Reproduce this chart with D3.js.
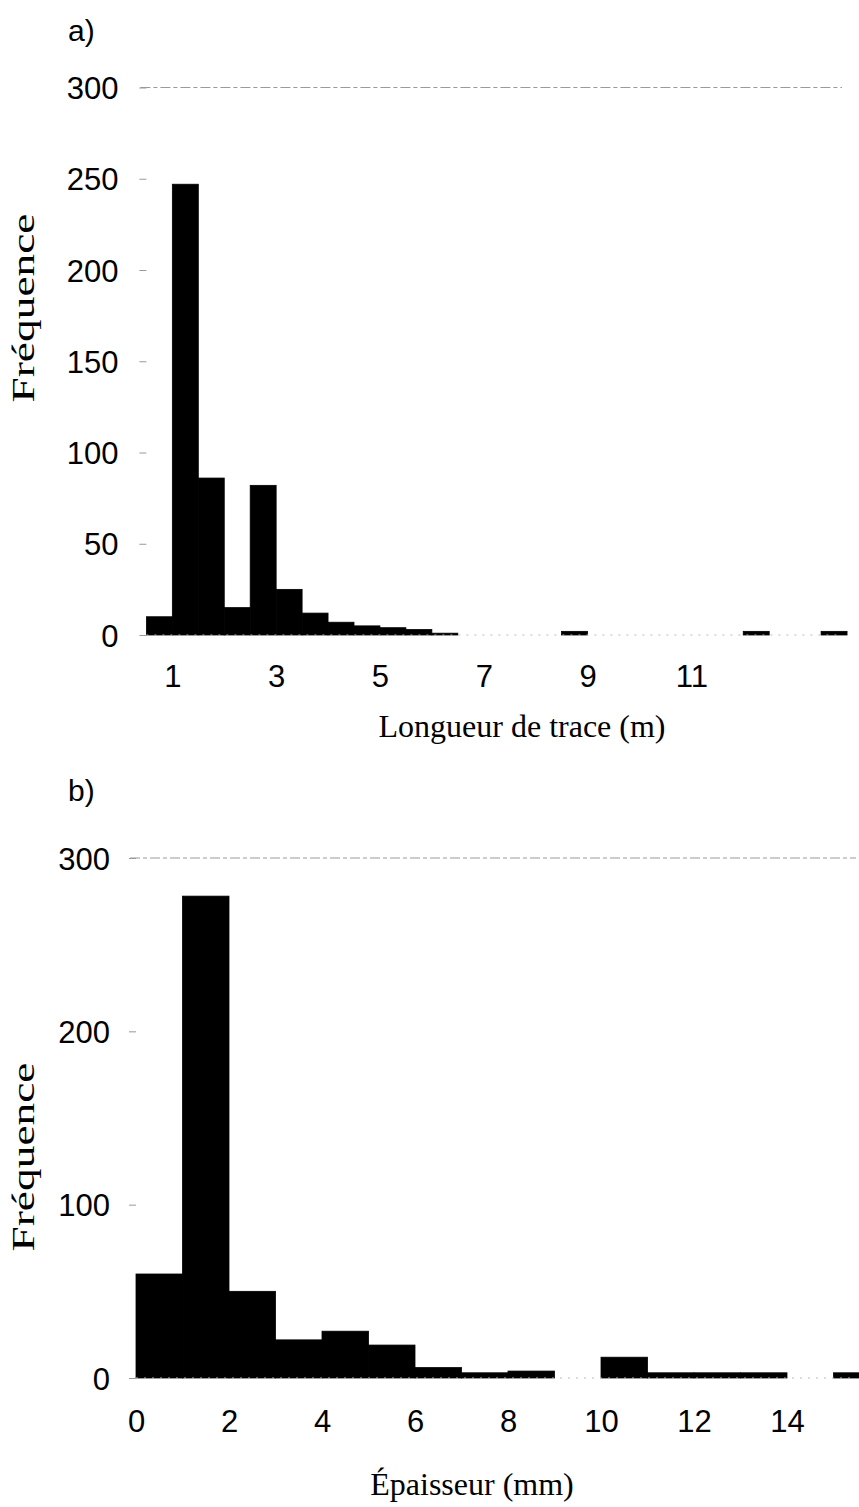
<!DOCTYPE html>
<html>
<head>
<meta charset="utf-8">
<script src="https://cdn.jsdelivr.net/npm/d3@7"></script>
<style>
  body { margin: 0; background: #fff; }
  svg { display: block; }
  .tick text { font-family: "Liberation Sans", Arial, sans-serif; font-size: 31px; fill: #000; }
  .title { font-family: "Liberation Serif", "Times New Roman", serif; font-size: 32px; fill: #000; }
  .panel { font-family: "Liberation Sans", Arial, sans-serif; font-size: 30px; fill: #000; }
</style>
</head>
<body>
<div id="chart"></div>
<script>
// a) trace length, 0.5 m bins (lower edge of each bin)
const lengthBins = [0.5, 1, 1.5, 2, 2.5, 3, 3.5, 4, 4.5, 5, 5.5, 6, 6.5, 7, 7.5, 8, 8.5, 9, 9.5, 10, 10.5, 11, 11.5, 12, 12.5, 13, 13.5];
const lengthCounts = [10, 247, 86, 15, 82, 25, 12, 7, 5, 4, 3, 1, 0, 0, 0, 0, 2, 0, 0, 0, 0, 0, 0, 2, 0, 0, 2];
const lengthTicks = [1, 3, 5, 7, 9, 11];
const lengthYTicks = [0, 50, 100, 150, 200, 250, 300];

// b) thickness, 1 mm bins
const thickBins = [0, 1, 2, 3, 4, 5, 6, 7, 8, 9, 10, 11, 12, 13, 14, 15];
const thickCounts = [60, 278, 50, 22, 27, 19, 6, 3, 4, 0, 12, 3, 3, 3, 0, 3];
const thickTicks = [0, 2, 4, 6, 8, 10, 12, 14];
const thickYTicks = [0, 100, 200, 300];

const W = 859, H = 1507;
const svg = d3.select("#chart").append("svg").attr("width", W).attr("height", H);

function panel(opts) {
  const g = svg.append("g");
  const x = d3.scaleLinear().domain(opts.xDomain).range(opts.xRange);
  const y = d3.scaleLinear().domain([0, 300]).range(opts.yRange);

  // top gridline
  g.append("line")
    .attr("x1", opts.xRange[0] - 6).attr("x2", opts.gridEnd)
    .attr("y1", y(300)).attr("y2", y(300))
    .attr("stroke", "#9a9a9a").attr("stroke-width", 1)
    .attr("stroke-dasharray", "10,3,4,3");

  // bars
  g.selectAll("rect")
    .data(opts.bins.map((b, i) => ({ b, c: opts.counts[i] })).filter(d => d.c > 0))
    .join("rect")
    .attr("x", d => x(d.b))
    .attr("width", d => x(d.b + opts.binWidth) - x(d.b))
    .attr("y", d => y(d.c))
    .attr("height", d => y(0) - y(d.c))
    .attr("fill", "#000")
    .attr("stroke", "#000")
    .attr("stroke-width", 0.8);

  // x baseline (faint)
  g.append("line")
    .attr("x1", opts.xRange[0]).attr("x2", opts.gridEnd)
    .attr("y1", y(0)).attr("y2", y(0))
    .attr("stroke", "#bbb").attr("stroke-width", 1)
    .attr("stroke-dasharray", "2,6");

  const yAxis = g.append("g")
    .attr("transform", `translate(${opts.xRange[0]},0)`)
    .call(d3.axisLeft(y).tickValues(opts.yTicks).tickSize(7).tickPadding(opts.yPad));
  yAxis.select(".domain").remove();
  yAxis.selectAll(".tick line").attr("stroke", "#999");
  yAxis.selectAll(".tick text").attr("dy", "0.36em");

  const xAxis = g.append("g")
    .attr("transform", `translate(0,${y(0)})`)
    .call(d3.axisBottom(x).tickValues(opts.xTicks).tickSize(0));
  xAxis.select(".domain").remove();
  xAxis.selectAll(".tick text").attr("y", opts.xLabelBase - y(0)).attr("dy", 0);

  svg.append("text").attr("class", "panel")
    .attr("x", 68).attr("y", opts.panelY).text(opts.panel);

  svg.append("text").attr("class", "title")
    .attr("text-anchor", "middle")
    .attr("x", opts.xTitle[0]).attr("y", opts.xTitle[1])
    .text(opts.xLabel);

  svg.append("text").attr("class", "title")
    .attr("text-anchor", "middle")
    .attr("transform", `translate(${opts.yTitle[0]},${opts.yTitle[1]}) rotate(-90)`)
    .attr("textLength", 189).attr("lengthAdjust", "spacingAndGlyphs")
    .text("Fréquence");
}

panel({
  bins: lengthBins, counts: lengthCounts, binWidth: 0.5,
  xDomain: [0.5, 14.5], xRange: [146.4, 873], yRange: [635, 87.5],
  gridEnd: 842, xTicks: lengthTicks, yTicks: lengthYTicks, yPad: 21,
  xLabelBase: 687, panel: "a)", panelY: 41,
  xLabel: "Longueur de trace (m)", xTitle: [522, 737], yTitle: [34, 308]
});

panel({
  bins: thickBins, counts: thickCounts, binWidth: 1,
  xDomain: [0, 16], xRange: [136, 880], yRange: [1378, 858],
  gridEnd: 856, xTicks: thickTicks, yTicks: thickYTicks, yPad: 19,
  xLabelBase: 1432, panel: "b)", panelY: 801,
  xLabel: "Épaisseur (mm)", xTitle: [472, 1495], yTitle: [34, 1157]
});
</script>
</body>
</html>
